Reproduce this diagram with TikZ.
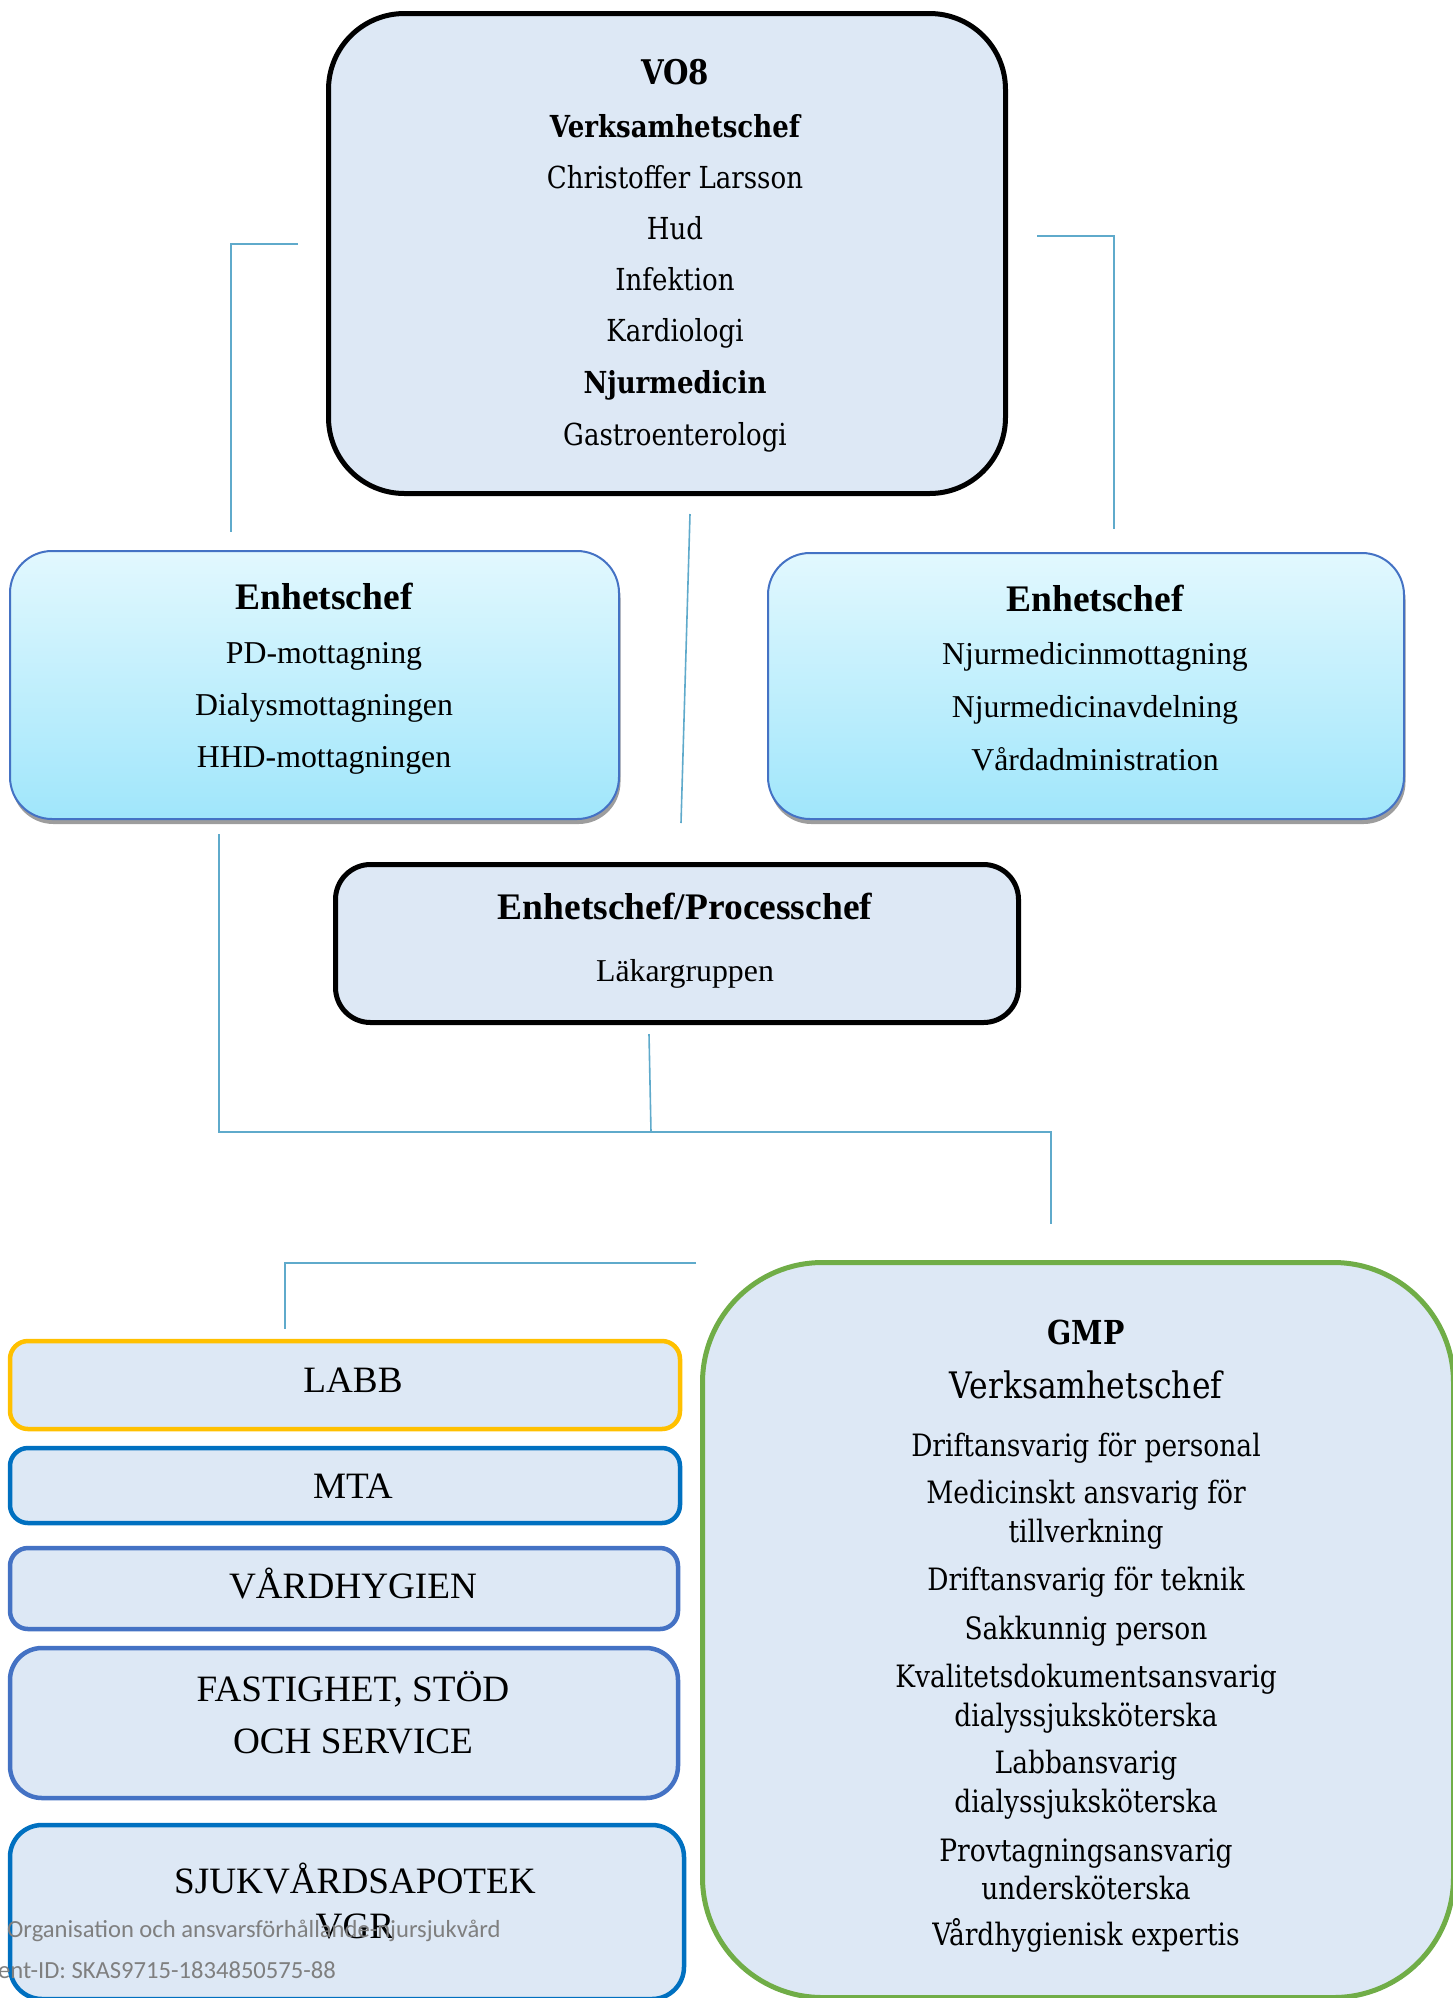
\documentclass[tikz,border=0pt]{standalone}
\usepackage{fontspec}
\setmainfont{Liberation Serif}
\newfontfamily\camb[FakeStretch=0.86]{DejaVu Serif}
\newfontfamily\calib{Carlito}
\usetikzlibrary{shadows}
\definecolor{boxfill}{HTML}{DDE8F5}
\definecolor{gradtop}{HTML}{E2F8FE}
\definecolor{gradbot}{HTML}{A0E6FB}
\definecolor{ebord}{HTML}{4472C4}
\definecolor{conn}{HTML}{5FAACB}
\definecolor{labbc}{HTML}{FFC000}
\definecolor{bluec}{HTML}{0070C0}
\definecolor{midblue}{HTML}{4472C4}
\definecolor{greenc}{HTML}{70AD47}
\definecolor{footc}{HTML}{7F7F7F}
\newcommand\fsz[1]{\fontsize{#1}{#1}\selectfont}
\begin{document}
\begin{tikzpicture}[x=1pt,y=-1pt,
  box/.style={rectangle, inner sep=0pt, outer sep=0pt, fill=boxfill},
  headbox/.style={box, draw=black, line width=5pt},
  ebox/.style={rectangle, inner sep=0pt, outer sep=0pt, draw=ebord, line width=2pt,
     top color=gradtop, bottom color=gradbot, rounded corners=42pt,
     drop shadow={shadow xshift=1.5pt, shadow yshift=-5pt, fill=black!45, opacity=0.85}},
  stackbox/.style={box, line width=4.5pt, rounded corners=18pt},
  gmpbox/.style={box, draw=greenc, line width=5pt, rounded corners=120pt},
  conline/.style={draw=conn, line width=1.6pt},
  ct/.style={anchor=base, font=\camb\fsz{30.3}},
  cb/.style={anchor=base, font=\camb\bfseries\fsz{30.3}},
  gt/.style={anchor=base, font=\camb\fsz{30.8}},
  tr/.style={anchor=base, font=\fsz{31.8}},
  tb/.style={anchor=base, font=\bfseries\fsz{37.5}},
  st/.style={anchor=base, font=\fsz{37.2}},
  ft/.style={anchor=base west, font=\calib\fsz{24.6}, text=footc, inner sep=0pt}
]
\useasboundingbox (0,0) rectangle (1452,1998);

% ---------- VO8 ----------
\node[headbox, rounded corners=76pt, minimum width=677pt, minimum height=480pt] (vo) at (667,253.5) {};
\node[cb, font=\camb\bfseries\fsz{34}] (vo1) at (675,84) {VO8};
\node[cb] (vo2) at (675,137) {Verksamhetschef};
\node[ct] (vo3) at (675,188) {Christoffer Larsson};
\node[ct] (vo4) at (675,239) {Hud};
\node[ct] (vo5) at (675,290) {Infektion};
\node[ct] (vo6) at (675,341) {Kardiologi};
\node[cb] (vo7) at (675,393) {Njurmedicin};
\node[ct] (vo8) at (675,445) {Gastroenterologi};

% ---------- Enhetschef left ----------
\node[ebox, minimum width=609pt, minimum height=268pt] (el) at (314.5,685) {};
\node[tb] (el1) at (324,609) {Enhetschef};
\node[tr] (el2) at (324,663) {PD-mottagning};
\node[tr] (el3) at (324,715) {Dialysmottagningen};
\node[tr] (el4) at (324,767) {HHD-mottagningen};

% ---------- Enhetschef right ----------
\node[ebox, minimum width=636pt, minimum height=266pt] (er) at (1086,686) {};
\node[tb] (er1) at (1095,611) {Enhetschef};
\node[tr] (er2) at (1095,664) {Njurmedicinmottagning};
\node[tr] (er3) at (1095,717) {Njurmedicinavdelning};
\node[tr] (er4) at (1095,770) {Vårdadministration};

% ---------- Enhetschef/Processchef ----------
\node[headbox, rounded corners=35pt, minimum width=683pt, minimum height=158pt] (mid) at (677,943.5) {};
\node[tb] (mid1) at (685,919) {Enhetschef/Processchef};
\node[tr] (mid2) at (685,981) {Läkargruppen};

% ---------- connectors ----------
\coordinate (c1a) at (298,244);
\coordinate (c1b) at (231,532);
\draw[conline] (c1a) -| (c1b);
\coordinate (c2a) at (1037,236);
\coordinate (c2b) at (1114,529);
\draw[conline] (c2a) -| (c2b);
\coordinate (c3a) at (690,514);
\coordinate (c3b) at (681,823);
\draw[conline] (c3a) -- (c3b);
\coordinate (c4a) at (219,834);
\coordinate (c4j) at (219,1132);
\coordinate (c4b) at (1051,1224);
\draw[conline] (c4a) -- (c4j) -| (c4b);
\coordinate (c5a) at (649,1034);
\coordinate (c5b) at (651,1132);
\draw[conline] (c5a) -- (c5b);
\coordinate (c6a) at (696,1263);
\coordinate (c6b) at (285,1329);
\draw[conline] (c6a) -| (c6b);

% ---------- left stack ----------
\node[stackbox, draw=labbc, minimum width=670pt, minimum height=88pt] (labb) at (345,1385) {};
\node[st] (labbt) at (353,1392) {LABB};
\node[stackbox, draw=bluec, minimum width=670pt, minimum height=75pt] (mta) at (345,1485.5) {};
\node[st] (mtat) at (353,1498) {MTA};
\node[stackbox, draw=midblue, minimum width=668pt, minimum height=81pt] (vh) at (344,1588.5) {};
\node[st] (vht) at (353,1598) {VÅRDHYGIEN};
\node[stackbox, draw=midblue, rounded corners=32pt, minimum width=668pt, minimum height=150pt] (fs) at (344,1723) {};
\node[st] (fst1) at (353,1701) {FASTIGHET, STÖD};
\node[st] (fst2) at (353,1753) {OCH SERVICE};
\node[stackbox, draw=bluec, rounded corners=32pt, minimum width=674pt, minimum height=174pt] (sa) at (347,1912) {};
\node[st] (sat1) at (355,1893) {SJUKVÅRDSAPOTEK};
\node[st] (sat2) at (355,1938) {VGR};

% ---------- GMP ----------
\node[gmpbox, minimum width=751pt, minimum height=735pt] (gmp) at (1078,1630) {};
\node[cb, font=\camb\bfseries\fsz{33}] (g1) at (1086,1344.5) {GMP};
\node[gt, font=\camb\fsz{36.5}] (g2) at (1086,1398) {Verksamhetschef};
\node[gt] (g3) at (1086,1456) {Driftansvarig för personal};
\node[gt] (g4) at (1086,1503) {Medicinskt ansvarig för};
\node[gt] (g5) at (1086,1542) {tillverkning};
\node[gt] (g6) at (1086,1590) {Driftansvarig för teknik};
\node[gt] (g7) at (1086,1639) {Sakkunnig person};
\node[gt] (g8) at (1086,1687) {Kvalitetsdokumentsansvarig};
\node[gt] (g9) at (1086,1726) {dialyssjuksköterska};
\node[gt] (g10) at (1086,1773) {Labbansvarig};
\node[gt] (g11) at (1086,1812) {dialyssjuksköterska};
\node[gt] (g12) at (1086,1861) {Provtagningsansvarig};
\node[gt] (g13) at (1086,1899) {undersköterska};
\node[gt] (g14) at (1086,1945) {Vårdhygienisk expertis};

% ---------- footer ----------
\node[ft] (f1) at (7,1937) {Organisation och ansvarsförhållande-njursjukvård};
\node[ft] (f2) at (-2,1978) {ent-ID: SKAS9715-1834850575-88};
\end{tikzpicture}
\end{document}
